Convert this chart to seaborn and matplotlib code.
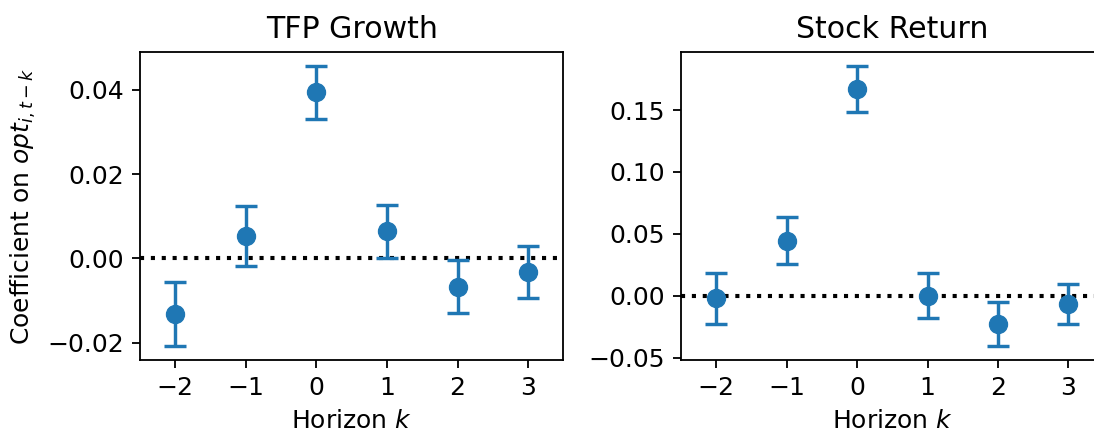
import numpy as np
import pandas as pd
import matplotlib
matplotlib.use("Agg")
import matplotlib.pyplot as plt
import seaborn as sns

# Datos
horizon = [-2, -1, 0, 1, 2, 3]
tfp_coef = [-0.0131, 0.0053, 0.0394, 0.0065, -0.0067, -0.0032]
tfp_se = [0.0076, 0.0071, 0.0063, 0.0063, 0.0063, 0.0061]
ret_coef = [-0.0021, 0.0445, 0.1670, 0.0000, -0.0231, -0.0067]
ret_se = [0.0204, 0.0190, 0.0187, 0.0184, 0.0177, 0.0164]
titles = ["TFP Growth", "Stock Return"]
tfp_ticks = [-0.02, 0.00, 0.02, 0.04]
ret_ticks = [-0.05, 0.00, 0.05, 0.10, 0.15]

plt.rcParams['font.size'] = 11

color = "#1f77b4"
dpi = 164
fig = plt.figure(figsize=(1094 / dpi, 433 / dpi), dpi=dpi)
ax1 = fig.add_axes([0.128, 0.1686, 0.387, 0.7113])
ax2 = fig.add_axes([0.6225, 0.1686, 0.3863, 0.7113])

paneles = [
    (ax1, tfp_coef, tfp_se, titles[0], tfp_ticks, (-0.0241, 0.049)),
    (ax2, ret_coef, ret_se, titles[1], ret_ticks, (-0.052, 0.197)),
]

for ax, coef, se, titulo, ticks, ylim in paneles:
    df = pd.DataFrame({"k": horizon, "coef": coef, "se": se})
    ax.axhline(0, color="black", linestyle=":", linewidth=1.8, zorder=1)
    ax.errorbar(df["k"], df["coef"], yerr=df["se"], fmt="none",
                ecolor=color, elinewidth=1.5, capsize=5, capthick=1.5, zorder=2)
    sns.scatterplot(data=df, x="k", y="coef", ax=ax, color=color, s=64,
                    edgecolor=color, linewidth=0.5, zorder=3)
    ax.set_xlim(-2.5, 3.5)
    ax.set_ylim(*ylim)
    ax.set_xticks(horizon)
    ax.set_yticks(ticks)
    ax.set_title(titulo, fontsize=13.2)
    ax.set_xlabel(r"Horizon $k$")
    ax.set_ylabel("")

ax1.set_ylabel(r"Coefficient on $opt_{i,t-k}$")

fig.savefig("out.png", dpi=dpi)
